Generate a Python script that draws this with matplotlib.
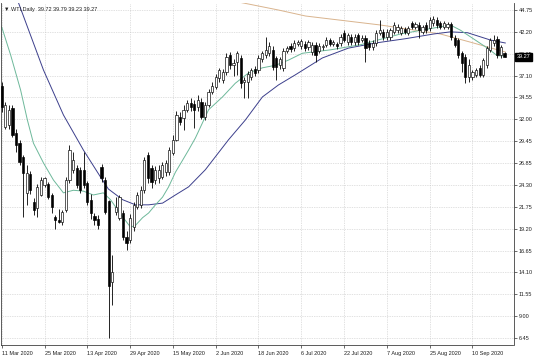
import numpy as np
import matplotlib.pyplot as plt

symbol = 'WTI,Daily'

# daily candles, bar 0 = 11 Mar 2020
opens = [35.9, 31.1, 31.3, 33.3, 30.4, 29.2, 27.6, 23.4, 25.6, 22.3,
         21.6, 23.2, 24.3, 24.4, 23.2, 20.6, 20.2, 20.0, 21.4, 24.9,
         26.1, 26.3, 26.1, 26.1, 24.5, 22.6, 20.7, 20.4, 26.4, 24.9,
         22.4, 13.0, 21.2, 20.5, 21.0, 18.2, 17.9, 19.4, 21.8, 22.0,
         23.7, 27.8, 26.3, 24.9, 25.1, 25.3, 25.8, 25.8, 28.1, 29.6,
         32.3, 32.1, 33.1, 33.9, 33.8, 33.4, 34.0, 32.25, 33.65, 35.2,
         35.8, 36.8, 36.6, 37.5, 39.5, 38.3, 38.7, 39.15, 36.4, 36.4,
         36.9, 37.9, 37.7, 39.0, 39.5, 39.7, 40.1, 39.15, 38.3, 37.95,
         40.0, 40.6, 40.3, 40.8, 40.5, 40.8, 40.4, 39.8, 40.7, 40.0,
         40.4, 40.7, 41.2, 40.8, 40.8, 40.9, 42.1, 41.0, 41.6, 41.0,
         41.8, 41.3, 41.5, 40.9, 40.4, 40.9, 42.1, 42.2, 41.6, 41.6,
         42.2, 42.4, 42.1, 42.5, 42.1, 43.2, 42.8, 43.0, 42.2, 43.0,
         42.65, 43.2, 43.6, 43.2, 42.8, 42.8, 43.1, 41.5, 41.25, 39.7,
         39.3, 36.9, 36.9, 37.2, 38.0, 37.2, 38.3, 40.1, 40.9, 41.4,
         39.5, 39.72]
highs = [36.3, 34.0, 33.6, 33.6, 30.8, 29.6, 27.8, 26.7, 26.0, 22.8,
         24.4, 25.3, 25.3, 24.7, 23.4, 20.8, 21.5, 21.4, 25.3, 29.0,
         28.2, 26.6, 26.4, 28.2, 24.8, 23.3, 21.0, 20.8, 26.8, 25.3,
         22.6, 16.1, 22.9, 23.1, 21.4, 18.9, 20.9, 22.3, 23.5, 24.2,
         27.6, 28.2, 26.6, 26.5, 26.6, 27.0, 27.2, 28.8, 30.1, 33.0,
         32.8, 33.6, 34.3, 34.5, 34.3, 34.8, 34.5, 34.0, 35.5, 36.3,
         37.3, 38.0, 37.9, 39.7, 39.9, 39.0, 40.0, 39.5, 36.9, 37.6,
         38.0, 38.2, 39.5, 40.0, 41.6, 41.0, 40.5, 39.4, 39.3, 40.3,
         40.6, 40.9, 41.2, 41.3, 41.4, 41.1, 41.3, 41.0, 41.0, 40.9,
         40.8, 41.6, 41.5, 41.3, 41.0, 41.9, 42.4, 42.1, 41.9, 41.9,
         42.1, 41.8, 41.8, 41.2, 41.2, 42.4, 43.6, 42.5, 42.5, 42.7,
         43.3, 43.1, 42.9, 42.8, 42.9, 43.5, 43.4, 43.3, 43.0, 43.3,
         43.9, 44.0, 43.9, 43.5, 43.5, 43.4, 43.4, 41.8, 41.5, 40.0,
         39.6, 39.0, 37.8, 38.0, 38.3, 39.2, 40.6, 41.5, 41.8, 41.7,
         40.7, 39.79]
lows = [32.8, 30.9, 30.8, 29.9, 28.2, 26.6, 20.6, 22.0, 23.3, 20.8,
        20.6, 23.0, 24.1, 22.7, 21.0, 19.2, 19.9, 19.6, 21.2, 24.5,
        25.7, 24.0, 23.4, 24.0, 22.0, 20.3, 19.7, 19.2, 24.7, 20.9,
        6.5, 10.3, 20.8, 20.2, 17.9, 16.7, 17.5, 19.0, 21.5, 21.6,
        23.4, 24.6, 24.0, 24.4, 24.6, 25.0, 25.4, 25.5, 27.8, 29.4,
        31.3, 30.7, 32.8, 33.0, 31.0, 33.0, 32.0, 31.9, 33.4, 34.9,
        35.5, 36.4, 36.2, 37.2, 37.9, 37.0, 37.2, 35.6, 34.5, 34.5,
        36.6, 37.0, 37.4, 38.7, 39.2, 39.4, 37.7, 36.6, 37.9, 37.6,
        39.7, 39.8, 40.0, 40.5, 40.2, 40.0, 40.1, 39.5, 38.7, 39.7,
        40.1, 40.4, 40.5, 40.5, 40.2, 40.6, 41.0, 40.7, 40.7, 40.7,
        40.7, 41.0, 38.7, 40.1, 40.1, 40.6, 41.8, 41.3, 41.3, 41.3,
        41.9, 42.1, 41.8, 41.9, 41.8, 42.5, 42.5, 41.5, 41.9, 42.1,
        42.3, 42.9, 42.7, 42.5, 42.5, 42.5, 41.2, 40.4, 39.2, 37.5,
        36.2, 36.4, 36.6, 36.9, 36.9, 36.9, 38.0, 39.8, 40.6, 39.2,
        39.2, 39.23]
closes = [33.4, 33.6, 33.1, 30.2, 29.0, 27.0, 25.7, 25.7, 23.7, 21.4,
          24.1, 24.9, 25.1, 22.9, 21.8, 20.2, 20.0, 21.2, 24.9, 28.4,
          27.2, 24.3, 23.7, 24.3, 22.3, 21.1, 20.2, 19.6, 25.1, 21.2,
          12.5, 14.2, 21.75, 22.9, 18.2, 17.6, 20.5, 22.0, 23.1, 23.7,
          27.2, 25.1, 24.7, 26.1, 26.1, 26.65, 26.9, 28.4, 29.6, 32.5,
          31.7, 33.1, 33.9, 33.4, 33.1, 34.3, 32.3, 33.7, 35.2, 35.9,
          36.9, 37.7, 37.5, 39.3, 38.3, 38.6, 39.7, 36.2, 36.6, 37.3,
          37.7, 37.4, 39.15, 39.7, 40.1, 40.6, 38.1, 38.1, 39.0, 40.0,
          40.3, 40.2, 40.9, 41.0, 41.1, 40.3, 41.0, 40.7, 39.5, 40.6,
          40.5, 41.3, 40.8, 41.0, 40.5, 41.6, 41.25, 41.8, 41.0, 41.6,
          41.0, 41.5, 40.3, 40.4, 40.9, 42.1, 42.4, 41.6, 42.2, 42.4,
          43.0, 42.8, 42.6, 42.2, 42.6, 42.8, 43.1, 42.4, 42.75, 42.4,
          43.6, 43.7, 43.0, 42.8, 43.2, 43.1, 41.6, 40.7, 39.5, 38.6,
          36.9, 38.3, 37.5, 37.7, 37.2, 38.9, 40.3, 41.25, 41.25, 39.5,
          40.4, 39.27]

# moving averages (bar index, price)
fast_ma_bar = [0, 2.5, 5.3, 7.2, 8.9, 11.7, 14.5, 17.3, 20.1, 22.9, 25.7, 28.5,
               30.5, 33.9, 36.1, 37.5, 39.5, 41.2, 43.1, 45.1, 46.8, 48.7, 50.7,
               52.4, 54.3, 58.0, 61.9, 65.5, 69.2, 73.1, 76.8, 80.4, 84.3, 92.2,
               100.6, 111.8, 125.8, 128.6, 136.2, 139.0, 141.2]
fast_ma = [42.77, 39.5, 35.4, 31.9, 29.2, 26.9, 24.9, 23.4, 23.7, 23.6, 23.15,
           23.4, 22.6, 20.6, 19.4, 19.6, 20.5, 21.05, 22.0, 22.9, 24.1, 25.8,
           27.2, 28.4, 29.8, 33.1, 34.6, 36.2, 37.4, 38.0, 38.3, 38.9, 39.7,
           40.1, 40.7, 41.95, 43.0, 42.4, 40.3, 39.4, 39.4]
slow_ma_bar = [4.7, 11.7, 17.3, 22.9, 27.7, 29.9, 33.9, 37.5, 41.2, 45.1, 48.7,
               52.4, 57.1, 63.6, 68.3, 73.1, 77.6, 82.4, 89.9, 97.2, 104.8,
               113.2, 121.1, 125.8, 130.6, 137.0, 141.2]
slow_ma = [45.6, 37.75, 32.5, 28.4, 25.25, 23.85, 22.6, 22.0, 22.0, 22.2, 23.15,
           24.1, 26.1, 29.6, 31.9, 34.6, 36.0, 37.2, 39.15, 40.3, 40.9, 41.4,
           41.95, 42.2, 42.1, 41.25, 40.9]
long_ma_bar = [65.0, 77.6, 85.2, 106.2, 123.0, 131.4, 141.2]
long_ma = [45.8, 44.75, 44.05, 43.0, 41.95, 41.0, 39.85]

date_labels = ['11 Mar 2020', '25 Mar 2020', '13 Apr 2020', '29 Apr 2020',
               '15 May 2020', '2 Jun 2020', '18 Jun 2020', '6 Jul 2020',
               '22 Jul 2020', '7 Aug 2020', '25 Aug 2020', '10 Sep 2020']
price_ticks = [44.75, 42.20, 39.65, 37.10, 34.55, 32.00, 29.45, 26.85,
               24.30, 21.75, 19.20, 16.65, 14.10, 11.55, 9.00, 6.45]

fnt = ['Liberation Sans', 'DejaVu Sans']
plt.rcParams['font.family'] = fnt

o = np.array(opens)
h = np.array(highs)
l = np.array(lows)
c = np.array(closes)
idx = np.arange(len(c))
up = c >= o

fig = plt.figure(figsize=(5.36, 3.57), dpi=100)
ax = fig.add_axes([0.5 / 536, 12 / 357, 513 / 536, 342 / 357])

ax.plot(long_ma_bar, long_ma, color='#d9b48e', lw=0.7, zorder=1.5)
ax.plot(slow_ma_bar, slow_ma, color='#3c3f8c', lw=0.7, zorder=1.5)
ax.plot(fast_ma_bar, fast_ma, color='#6db89a', lw=0.7, zorder=1.5)

ax.vlines(idx, l, h, color='black', lw=0.6, zorder=2)
body_lo = np.minimum(o, c)
body_h = np.maximum(np.abs(c - o), 0.06)
ax.bar(idx, body_h, bottom=body_lo, width=0.62,
       color=np.where(up, 'white', 'black'), edgecolor='black',
       linewidth=0.45, zorder=3)

ax.set_xlim(-0.34, 143.5)
ax.set_ylim(5.63, 45.57)

ax.set_xticks(np.arange(len(date_labels)) * 12)
ax.set_xticklabels(date_labels, ha='left')
ax.set_yticks(price_ticks)
ax.set_yticklabels(['%.2f' % v for v in price_ticks])
ax.yaxis.tick_right()
ax.tick_params(axis='both', labelsize=4, length=2.5, width=0.5,
               color='#303030', labelcolor='#202020')
ax.tick_params(axis='x', pad=1.5)
ax.tick_params(axis='y', pad=1.5)

ax.grid(True, color='#c4c4c4', linestyle=(0, (1, 1.5)), linewidth=0.5)
ax.set_axisbelow(True)
for side in ['left', 'bottom', 'right']:
    ax.spines[side].set_color('#404040')
    ax.spines[side].set_linewidth(0.6)
ax.spines['top'].set_visible(False)

ax.text(0.006, 0.988, '\u25bc %s  %.2f %.2f %.2f %.2f'
        % (symbol, o[-1], h[-1], l[-1], c[-1]),
        transform=ax.transAxes, ha='left', va='top', fontsize=4,
        color='#202020', family=fnt)

ax.annotate('%.2f' % c[-1], xy=(1.0, c[-1]),
            xycoords=('axes fraction', 'data'), xytext=(2.2, 0),
            textcoords='offset points', ha='left', va='center',
            fontsize=4, color='white', annotation_clip=False, zorder=10,
            bbox=dict(boxstyle='square,pad=0.3', fc='black', ec='black'))

plt.savefig('out.png', dpi=100)
